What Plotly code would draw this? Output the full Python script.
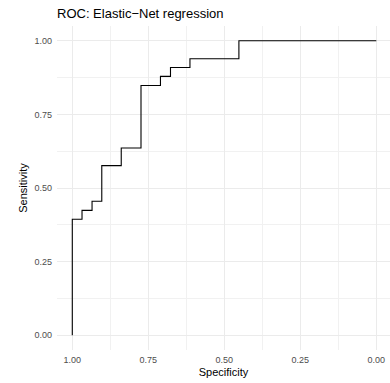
import plotly.graph_objects as go

specificity = [1.000, 1.000, 0.968, 0.935, 0.903, 0.839, 0.774, 0.710, 0.677, 0.613, 0.452, 0.000]
sensitivity = [0.000, 0.394, 0.424, 0.455, 0.576, 0.636, 0.848, 0.879, 0.909, 0.939, 1.000, 1.000]
tick_vals = [1.00, 0.75, 0.50, 0.25, 0.00]
tick_text = ["1.00", "0.75", "0.50", "0.25", "0.00"]

FONT = "Liberation Sans, Arial, sans-serif"

fig = go.Figure()
fig.add_trace(go.Scatter(
    x=specificity, y=sensitivity, mode="lines",
    line=dict(color="black", width=1.1, shape="hv"),
    hoverinfo="skip", showlegend=False,
))

axis_common = dict(
    showgrid=True, gridcolor="#EBEBEB", gridwidth=1.1,
    zeroline=False, showline=False, ticks="",
    tickfont=dict(family=FONT, size=9, color="#4D4D4D"),
    minor=dict(showgrid=True, gridcolor="#F1F1F1", gridwidth=0.6, dtick=0.125),
    tickvals=tick_vals, ticktext=tick_text,
)

fig.update_layout(
    width=390, height=383,
    margin=dict(l=57, r=0, t=26, b=33),
    paper_bgcolor="white", plot_bgcolor="white",
    title=dict(text="ROC: Elastic\u2212Net regression", x=57/390, xanchor="left",
               xref="container", y=1-13/383, yref="container", yanchor="middle",
               font=dict(family=FONT, size=13, color="black")),
    xaxis=dict(range=[1.0503, -0.045], title=dict(text="Specificity", standoff=4,
               font=dict(family=FONT, size=11, color="black")), ticklabelstandoff=3, **axis_common),
    yaxis=dict(range=[-0.05, 1.05], title=dict(text="Sensitivity", standoff=4,
               font=dict(family=FONT, size=11, color="black")), ticklabelstandoff=4, **axis_common),
)

fig.write_html("out.html")
